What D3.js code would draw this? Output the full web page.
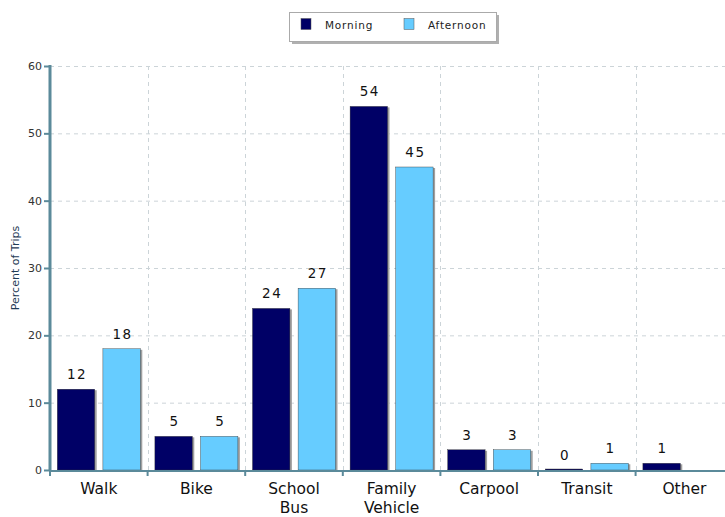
<!DOCTYPE html>
<html><head><meta charset="utf-8">
<script src="https://cdn.jsdelivr.net/npm/d3@7"></script>
<style>body{margin:0;background:#fff}svg{display:block}text{font-family:"DejaVu Sans",sans-serif}</style>
</head><body><svg id="c" width="725" height="517"></svg>
<script>
const categories = ["Walk","Bike","School\nBus","Family\nVehicle","Carpool","Transit","Other"];
const morning = [12,5,24,54,3,0,1];
const afternoon = [18,5,27,45,3,1,null];
const series = ["Morning","Afternoon"];
const colors = ["#000066","#66ccff"];
const yTicks = [0,10,20,30,40,50,60];

const svg = d3.select("#c");
const x0 = 50, x1 = 50 + 7*97.6, yTop = 66, yBot = 470;
const x = d3.scaleBand().domain(categories).range([x0, x1]).paddingInner(0).paddingOuter(0);
const y = d3.scaleLinear().domain([0,60]).range([yBot, yTop]);
const xs = d3.scaleBand().domain(series).range([0, x.bandwidth()]).paddingInner(0.18).paddingOuter(0.16);

// grid
const g = svg.append("g");
g.selectAll(".hg").data(yTicks.slice(1)).join("line")
  .attr("x1", x0).attr("x2", 725).attr("y1", d=>y(d)+0.5).attr("y2", d=>y(d)+0.5)
  .attr("stroke","#ccd4d8").attr("stroke-dasharray","4,4");
g.selectAll(".vg").data(categories.slice(1)).join("line")
  .attr("x1", d=>Math.round(x(d))+0.5).attr("x2", d=>Math.round(x(d))+0.5).attr("y1", yTop).attr("y2", yBot)
  .attr("stroke","#ccd4d8").attr("stroke-dasharray","4,4");

// bars
const data = [];
categories.forEach((c,i)=>{
  [morning[i], afternoon[i]].forEach((v,j)=>{ if(v!==null) data.push({c, s:series[j], v, col:colors[j]}); });
});
const bars = svg.append("g");
bars.selectAll(".sh").data(data).join("rect")
  .attr("x", d=>x(d.c)+xs(d.s)+2).attr("y", d=>Math.min(y(d.v), yBot-1)+1)
  .attr("width", xs.bandwidth()).attr("height", d=>Math.max(yBot-y(d.v),1))
  .attr("fill","#a0a0a0");
bars.selectAll(".b").data(data).join("rect")
  .attr("x", d=>x(d.c)+xs(d.s)).attr("y", d=>Math.min(y(d.v), yBot-1))
  .attr("width", xs.bandwidth()).attr("height", d=>Math.max(yBot-y(d.v),1))
  .attr("fill", d=>d.col).attr("stroke","#333").attr("stroke-width",0.4);
bars.selectAll(".vl").data(data).join("text")
  .attr("x", d=>x(d.c)+xs(d.s)+xs.bandwidth()/2+1).attr("y", d=>y(d.v)-10)
  .attr("text-anchor","middle").attr("font-size",13.5).attr("letter-spacing","1.5px")
  .attr("fill","#111").text(d=>d.v);

// y axis
const ya = svg.append("g").attr("transform",`translate(${x0},0)`)
  .call(d3.axisLeft(y).tickValues(yTicks).tickSize(6).tickPadding(2));
ya.select(".domain").attr("stroke","#5b8a9a").attr("stroke-width",3).attr("d",`M0,${yTop-1}V${yBot}`);
ya.selectAll(".tick line").attr("stroke","#5b8a9a").attr("stroke-width",2);
ya.selectAll(".tick text").attr("font-size",11).attr("fill","#333").attr("font-family","DejaVu Sans");

// x axis
svg.append("line").attr("x1",x0).attr("x2",725).attr("y1",yBot+1).attr("y2",yBot+1)
  .attr("stroke","#5b8a9a").attr("stroke-width",2);
svg.selectAll(".xt").data(categories).join("line")
  .attr("x1", d=>x(d)).attr("x2", d=>x(d)).attr("y1", yBot).attr("y2", yBot+6)
  .attr("stroke","#5b8a9a").attr("stroke-width",2);
svg.selectAll(".xl").data(categories).join("text")
  .attr("text-anchor","middle").attr("font-size",15.5).attr("fill","#111")
  .attr("transform", d=>`translate(${x(d)+x.bandwidth()/2},494)`)
  .each(function(d){
    const t=d3.select(this);
    d.split("\n").forEach((line,i)=>t.append("tspan").attr("x",0).attr("dy", i?18.5:0).text(line));
  });

// y label
svg.append("text").attr("transform","translate(19,268) rotate(-90)")
  .attr("text-anchor","middle").attr("font-size",11).attr("fill","#1f3a55").text("Percent of Trips");

// legend
const lg = svg.append("g");
lg.append("rect").attr("x",292).attr("y",15).attr("width",207).attr("height",29).attr("fill","#b0b0b0");
lg.append("rect").attr("x",289.5).attr("y",12.5).attr("width",207).attr("height",29).attr("fill","#fff").attr("stroke","#aaa");
const lx = [301, 404];
series.forEach((s,i)=>{
  lg.append("rect").attr("x",lx[i]).attr("y",18.5).attr("width",10).attr("height",11)
    .attr("fill",colors[i]).attr("stroke","#555").attr("stroke-width",0.5);
  lg.append("text").attr("x",lx[i]+24).attr("y",29).attr("font-size",10.5).attr("letter-spacing","0.8px")
    .attr("fill","#222").text(s);
});
</script></body></html>
